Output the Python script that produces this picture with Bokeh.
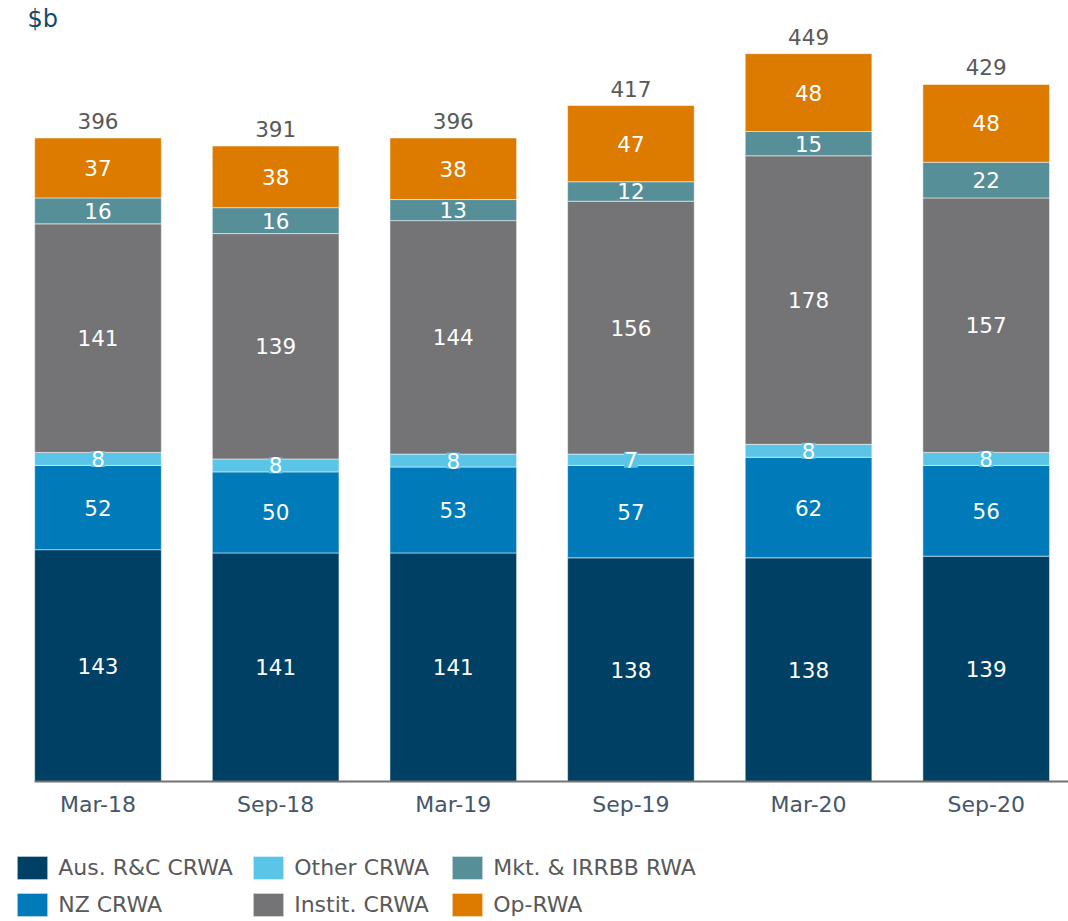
from bokeh.plotting import figure
from bokeh.models import (ColumnDataSource, LabelSet, Label, Legend, LegendItem,
                          FixedTicker, Range1d)
from bokeh.embed import file_html
from bokeh.resources import INLINE
from bokeh.core.properties import value
import numpy as np

# ---- data ----
periods = ["Mar-18", "Sep-18", "Mar-19", "Sep-19", "Mar-20", "Sep-20"]
aus_rc = [143, 141, 141, 138, 138, 139]
nz = [52, 50, 53, 57, 62, 56]
other = [8, 8, 8, 7, 8, 8]
instit = [141, 139, 144, 156, 178, 157]
mkt = [16, 16, 13, 12, 15, 22]
op = [37, 38, 38, 47, 48, 48]
totals = [396, 391, 396, 417, 449, 429]

series_names = ["Aus. R&C CRWA", "NZ CRWA", "Other CRWA",
                "Instit. CRWA", "Mkt. & IRRBB RWA", "Op-RWA"]
keys = ["aus", "nz", "other", "instit", "mkt", "op"]
series = [aus_rc, nz, other, instit, mkt, op]
colors = ["#004064", "#007ab8", "#5bc5e8", "#747476", "#578f98", "#dd7a00"]

FONT = "DejaVu Sans"
FS_NUM = "21.5px"
FS_TXT = "22px"

xs = list(range(len(periods)))
src = ColumnDataSource(dict(x=xs, **{k: v for k, v in zip(keys, series)}))

BAR_W = 0.713
p = figure(width=1068, height=921, output_backend="svg", toolbar_location=None,
           x_range=Range1d(-0.5489, 5.4633), y_range=Range1d(-86.37, 481.8),
           y_axis_location=None, min_border_left=0, min_border_right=0,
           min_border_top=0, min_border_bottom=0)
p.outline_line_color = None
p.grid.visible = False
p.background_fill_color = "white"

renderers = p.vbar_stack(keys, x="x", width=BAR_W, fill_color=colors, source=src,
                         line_color="white", line_width=1, line_alpha=0.5)

# segment labels
bottom = np.zeros(len(periods))
for vals, c in zip(series, colors):
    v = np.array(vals, dtype=float)
    mid = bottom + v / 2
    lsrc = ColumnDataSource(dict(x=xs, y=list(mid), t=[str(a) for a in vals]))
    p.add_layout(LabelSet(x="x", y="y", text="t", source=lsrc,
                          text_align="center", text_baseline="middle",
                          text_color="white", text_font=value(FONT),
                          text_font_size=FS_NUM, background_fill_color=c))
    bottom = bottom + v

# totals
tsrc = ColumnDataSource(dict(x=xs, y=list(bottom), t=[str(a) for a in totals]))
p.add_layout(LabelSet(x="x", y="y", text="t", source=tsrc, y_offset=9,
                      text_align="center", text_baseline="alphabetic",
                      text_color="#595959", text_font=value(FONT),
                      text_font_size=FS_NUM))

# unit label
p.add_layout(Label(x=27, y=903, x_units="screen", y_units="screen", text="$b",
                   text_font=FONT, text_font_size="24px",
                   text_color="#15496e", text_baseline="alphabetic"))

# x axis drawn at zero, starting at the first bar's left edge
p.xaxis.fixed_location = 0
p.xaxis.bounds = (-BAR_W / 2, 5.4633)
p.xaxis.ticker = FixedTicker(ticks=xs)
p.xaxis.major_label_overrides = {i: s for i, s in enumerate(periods)}
p.xaxis.major_tick_line_color = None
p.xaxis.minor_tick_line_color = None
p.xaxis.axis_line_color = "#737373"
p.xaxis.axis_line_width = 2
p.xaxis.major_label_standoff = 5
p.xaxis.major_label_text_font = FONT
p.xaxis.major_label_text_font_size = FS_TXT
p.xaxis.major_label_text_color = "#46566a"

# legends: one per column
items = [LegendItem(label=n, renderers=[r]) for n, r in zip(series_names, renderers)]
col_x = [13.2, 249.2, 448.2]
for c in range(3):
    leg = Legend(items=items[2 * c:2 * c + 2], location=(col_x[c], 2.1),
                 orientation="vertical", glyph_width=38, glyph_height=29,
                 label_standoff=7, spacing=8, padding=0, margin=0,
                 border_line_color=None, background_fill_alpha=0,
                 label_text_font=FONT, label_text_font_size=FS_TXT,
                 label_text_color="#595959")
    p.add_layout(leg, "center")

open("out.html", "w").write(file_html(p, INLINE))
